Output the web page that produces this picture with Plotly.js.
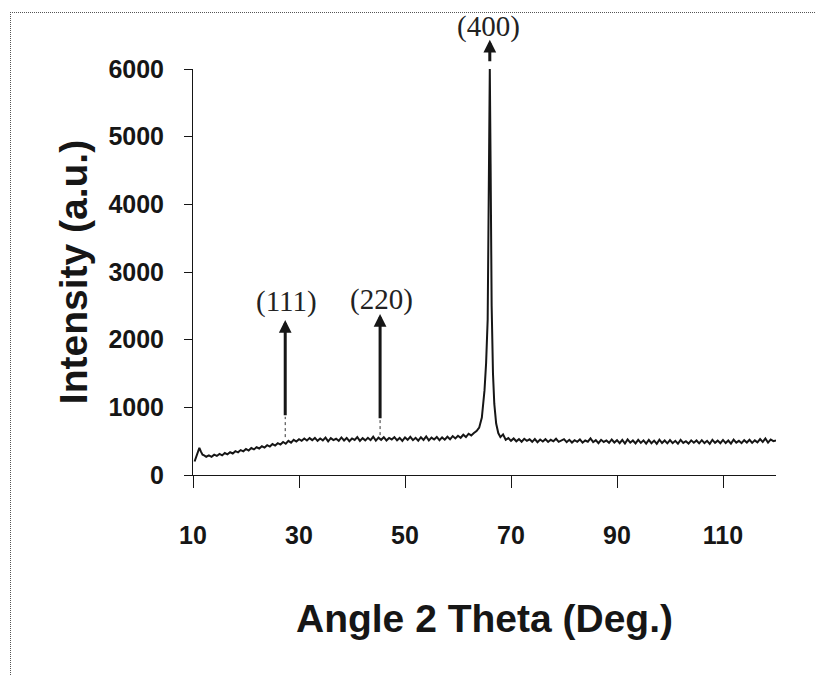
<!DOCTYPE html>
<html>
<head>
<meta charset="utf-8">
<script src="https://cdn.plot.ly/plotly-3.0.1.min.js"></script>
<style>
  html, body { margin: 0; padding: 0; background: #fff; }
  #wrap { position: relative; width: 815px; height: 675px; }
  #chart { position: absolute; left: 0; top: 0; width: 815px; height: 675px; }
  #frame { position: absolute; left: 10px; top: 12px; width: 805px; height: 663px;
           border-top: 1px dotted #555; border-left: 1px dotted #555; box-sizing: border-box; pointer-events: none; }
</style>
</head>
<body>
<div id="wrap">
  <div id="chart"></div>
  <div id="frame"></div>
</div>
<script>
// XRD scan: 2-theta (deg) and intensity (a.u.)
const scanX = [
  10.3, 10.6, 10.9, 11.2, 11.5, 11.8, 12.1, 12.5,
  13.0, 13.5, 14.0, 14.5, 15.0, 15.5, 16.0, 16.5, 17.0, 17.5,
  18.0, 18.5, 19.0, 19.5, 20.0, 20.5, 21.0, 21.5, 22.0, 22.5,
  23.0, 23.5, 24.0, 24.5, 25.0, 25.5, 26.0, 26.5, 27.0, 27.5,
  28.0, 28.5, 29.0, 29.5, 30.0, 30.5, 31.0, 31.5, 32.0, 32.5,
  33.0, 33.5, 34.0, 34.5, 35.0, 35.5, 36.0, 36.5, 37.0, 37.5,
  38.0, 38.5, 39.0, 39.5, 40.0, 40.5, 41.0, 41.5, 42.0, 42.5,
  43.0, 43.5, 44.0, 44.5, 45.0, 45.5, 46.0, 46.5, 47.0, 47.5,
  48.0, 48.5, 49.0, 49.5, 50.0, 50.5, 51.0, 51.5, 52.0, 52.5,
  53.0, 53.5, 54.0, 54.5, 55.0, 55.5, 56.0, 56.5, 57.0, 57.5,
  58.0, 58.5, 59.0, 59.5, 60.0, 60.5, 61.0, 61.5, 62.0, 62.5,
  63.0, 63.5, 64.0, 64.5, 65.0, 65.3, 65.6, 65.85, 66.0, 66.15,
  66.35, 66.6, 66.85, 67.2, 67.6, 68.0, 68.5, 69.0, 69.5, 70.0,
  70.5, 71.0, 71.5, 72.0, 72.5, 73.0, 73.5, 74.0, 74.5,
  75.0, 75.5, 76.0, 76.5, 77.0, 77.5, 78.0, 78.5, 79.0, 79.5,
  80.0, 80.5, 81.0, 81.5, 82.0, 82.5, 83.0, 83.5, 84.0, 84.5,
  85.0, 85.5, 86.0, 86.5, 87.0, 87.5, 88.0, 88.5, 89.0, 89.5,
  90.0, 90.5, 91.0, 91.5, 92.0, 92.5, 93.0, 93.5, 94.0, 94.5,
  95.0, 95.5, 96.0, 96.5, 97.0, 97.5, 98.0, 98.5, 99.0, 99.5,
  100.0, 100.5, 101.0, 101.5, 102.0, 102.5, 103.0, 103.5, 104.0, 104.5,
  105.0, 105.5, 106.0, 106.5, 107.0, 107.5, 108.0, 108.5, 109.0, 109.5,
  110.0, 110.5, 111.0, 111.5, 112.0, 112.5, 113.0, 113.5, 114.0, 114.5,
  115.0, 115.5, 116.0, 116.5, 117.0, 117.5, 118.0, 118.5, 119.0, 119.5,
  120.0
];
const scanY = [
  200, 260, 320, 400, 345, 300, 290, 270,
  290, 268, 300, 282, 312, 290, 325, 305, 336, 318,
  352, 335, 368, 350, 385, 362, 398, 378, 410, 392,
  425, 405, 440, 420, 458, 436, 470, 450, 488, 462,
  505, 478, 520, 495, 530, 505, 540, 510, 545, 515,
  548, 505, 540, 512, 552, 498, 545, 515, 535, 505,
  555, 510, 548, 500, 540, 518, 560, 505, 545, 512,
  550, 515, 565, 508, 552, 520, 558, 510, 548, 525,
  560, 512, 548, 505, 555, 520, 565, 515, 550, 508,
  558, 518, 570, 512, 552, 525, 562, 515, 556, 522,
  565, 528, 575, 540, 580, 550, 595, 560, 610, 585,
  620, 650, 700, 850, 1250, 1650, 2300, 4200, 6010, 4600,
  2500, 1500, 1050, 760, 620, 560, 600, 520, 545, 505,
  540, 498, 530, 492, 535, 505, 528, 490, 532,
  485, 525, 495, 530, 488, 520, 498, 535, 490, 515,
  530, 485, 520, 480, 515, 490, 525, 478, 510, 492,
  540, 485, 515, 470, 520, 488, 510, 475, 525, 480,
  515, 470, 520, 465, 525, 478, 510, 468, 520, 475,
  512, 465, 518, 470, 508, 462, 522, 472, 510, 468,
  515, 470, 505, 462, 518, 475, 500, 465, 512, 478,
  510, 468, 515, 472, 505, 460, 520, 475, 508, 470,
  518, 472, 510, 465, 522, 478, 505, 470, 515, 480,
  520, 475, 512, 482, 530, 488, 540, 478, 525, 500,
  510
];

// Peak labels (Miller indices), arrow positions in 2-theta and intensity
const peakLabels = ["(111)", "(220)", "(400)"];
const peakX      = [27.4, 45.3, 66.0];
const arrowTipY  = [2290, 2380, 5990];
const arrowTailY = [860, 815, 5990];
const stemBaseY  = [560, 590, 5990];
const labelX     = [27.7, 45.6, 65.7];
const labelY     = [2565, 2600, 5990];

const xTicks = [10, 30, 50, 70, 90, 110];
const yTicks = [0, 1000, 2000, 3000, 4000, 5000, 6000];

const ink = '#161616';
const sansBold = {family: 'Liberation Sans, Arial, sans-serif', size: 25, color: ink, weight: 'bold'};
const titleFont = {family: 'Liberation Sans, Arial, sans-serif', size: 39, color: ink, weight: 'bold'};

const annotations = [];
const shapes = [];
for (let i = 0; i < peakLabels.length; i++) {
  const isTop = (i === 2);
  annotations.push({
    x: peakX[i], y: arrowTipY[i], xref: 'x', yref: 'y',
    text: '', showarrow: true,
    axref: isTop ? 'pixel' : 'x', ayref: isTop ? 'pixel' : 'y',
    ax: isTop ? 0 : peakX[i], ay: isTop ? 23 : arrowTailY[i],
    yshift: isTop ? 30 : 0,
    arrowhead: 2, arrowsize: 0.85, arrowwidth: 3, arrowcolor: ink
  });
  annotations.push({
    x: labelX[i], y: labelY[i], xref: 'x', yref: 'y',
    text: peakLabels[i], showarrow: false,
    xanchor: 'center', yanchor: 'middle',
    yshift: isTop ? 43 : 0,
    font: {family: 'Liberation Serif, Times New Roman, serif', size: 29, color: '#222'}
  });
  if (!isTop) {
    shapes.push({
      type: 'line', xref: 'x', yref: 'y',
      x0: peakX[i], x1: peakX[i], y0: stemBaseY[i], y1: arrowTailY[i],
      line: {color: '#333', width: 1, dash: 'dot'}
    });
  }
}

const trace = {
  x: scanX, y: scanY, type: 'scatter', mode: 'lines',
  line: {color: ink, width: 2}, hoverinfo: 'x+y'
};

const layout = {
  width: 815, height: 675,
  margin: {l: 193, r: 39, t: 69, b: 200, pad: 0},
  paper_bgcolor: '#fff', plot_bgcolor: '#fff',
  showlegend: false,
  xaxis: {
    range: [10, 120], tickvals: xTicks, ticktext: xTicks.map(String),
    ticks: 'outside', ticklen: 12, tickwidth: 1, tickcolor: ink,
    showline: true, linecolor: ink, linewidth: 1,
    showgrid: false, zeroline: false,
    tickfont: sansBold, ticklabelstandoff: 26,
    title: {text: 'Angle 2 Theta (Deg.)', standoff: 56, font: titleFont},
    automargin: true
  },
  yaxis: {
    range: [0, 6000], tickvals: yTicks, ticktext: yTicks.map(String),
    ticks: 'outside', ticklen: 8, tickwidth: 1, tickcolor: ink,
    showline: true, linecolor: ink, linewidth: 1,
    showgrid: false, zeroline: false,
    tickfont: sansBold, ticklabelstandoff: 15,
    title: {text: 'Intensity (a.u.)', standoff: 8, font: titleFont},
    automargin: true
  },
  annotations: annotations,
  shapes: shapes
};

Plotly.newPlot('chart', [trace], layout, {staticPlot: true, displayModeBar: false});
</script>
</body>
</html>
